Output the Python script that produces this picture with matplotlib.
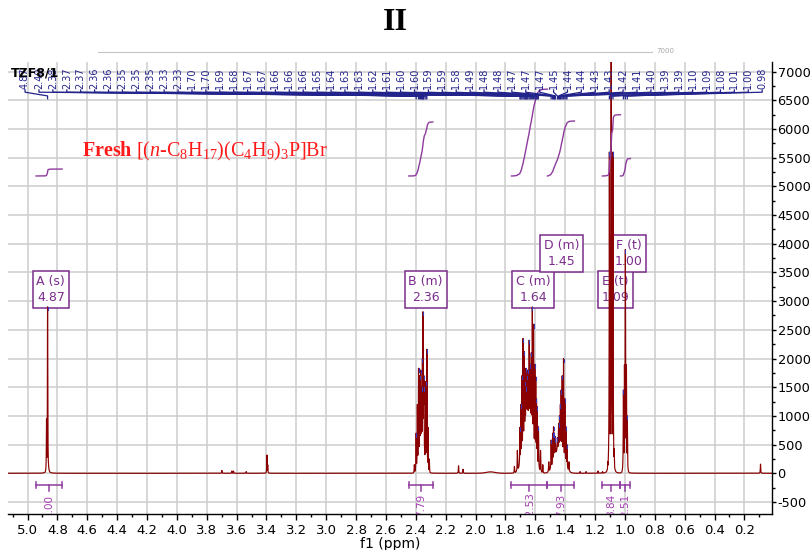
import numpy as np
import matplotlib
matplotlib.use("Agg")
import matplotlib.pyplot as plt
from matplotlib.lines import Line2D
from matplotlib.ticker import MultipleLocator, FuncFormatter

plt.rcParams["axes.unicode_minus"] = False
plt.rcParams["font.family"] = ["DejaVu Sans"]
plt.rcParams["mathtext.fontset"] = "custom"
plt.rcParams["mathtext.rm"] = "Liberation Serif"
plt.rcParams["mathtext.it"] = "Liberation Serif:italic"
plt.rcParams["mathtext.bf"] = "Liberation Serif:bold"

# ---------------- data ----------------
# picked peaks (ppm) and apparent heights
peak_ppm = [4.866,
            2.398, 2.382, 2.374, 2.368, 2.362, 2.356, 2.352, 2.348, 2.346, 2.333, 2.326,
            1.703, 1.697, 1.690, 1.682, 1.674, 1.668, 1.663, 1.659, 1.656, 1.650,
            1.641, 1.634, 1.627, 1.620, 1.612, 1.603, 1.597, 1.592, 1.587, 1.579,
            1.494, 1.484, 1.478, 1.473, 1.468, 1.466, 1.452, 1.444, 1.438, 1.432,
            1.427, 1.420, 1.411, 1.402, 1.394, 1.388,
            1.104, 1.092, 1.080,
            1.010, 0.997, 0.984]
peak_height = [2900,
               700, 1830, 1700, 1800, 1500, 2000, 2815, 1500, 1700, 1600, 2160,
               800, 1200, 1700, 2350, 2120, 1600, 1830, 1500, 1700, 1800,
               2320, 1900, 2100, 2900, 2600, 1900, 1680, 1300, 1160, 810,
               580, 700, 810, 700, 600, 640, 620, 870, 1000, 1200,
               1450, 1700, 2000, 1300, 810, 500,
               5600, 9500, 5600,
               1450, 3900, 1000]

# other (unpicked) lines
extra_ppm = [4.873, 3.699, 3.632, 3.621, 3.536, 3.397, 3.392,
             2.410, 2.390, 2.318, 2.310, 2.114, 2.084,
             1.740, 1.720, 1.565, 1.550, 1.510, 1.375,
             1.300, 1.260, 1.180, 1.150, 1.115, 1.072,
             1.003, 0.990, 0.092]
extra_height = [950, 50, 40, 40, 30, 318, 150,
                150, 1200, 800, 250, 130, 70,
                120, 400, 400, 150, 200, 200,
                30, 30, 40, 30, 200, 430,
                1890, 1890, 160]

# broad multiplet envelopes (centre, height, sigma in ppm)
env_center = [4.867, 2.360, 1.645, 1.440, 1.092, 0.997, 1.900]
env_height = [40, 500, 1000, 450, 400, 300, 25]
env_sigma = [0.006, 0.018, 0.030, 0.030, 0.010, 0.008, 0.030]

# multiplet annotations
mult_names = ["A (s)", "B (m)", "C (m)", "D (m)", "E (t)", "F (t)"]
mult_shift = [4.87, 2.36, 1.64, 1.45, 1.09, 1.00]
mult_row = [0, 0, 0, 1, 0, 1]

# integrals
integral_values = [1.00, 7.79, 12.53, 7.93, 8.84, 2.51]
integral_from = [4.943, 2.447, 1.760, 1.519, 1.151, 1.030]
integral_to = [4.769, 2.286, 1.519, 1.338, 1.030, 0.963]

# ---------------- build spectrum ----------------
ppm = np.linspace(5.131, 0.015, 60001)
env = np.zeros_like(ppm)
for c, h, s in zip(env_center, env_height, env_sigma):
    env += h * np.exp(-0.5 * ((ppm - c) / s) ** 2)

lines_p = np.array(peak_ppm + extra_ppm)
lines_h = np.array(peak_height + extra_height, dtype=float)
env_at = np.interp(lines_p, ppm[::-1], env[::-1])
amp = np.clip(lines_h - env_at, 0, None)
hw = 0.0014
spikes = np.zeros_like(ppm)
for p, a in zip(lines_p, amp):
    np.maximum(spikes, a / (1 + ((ppm - p) / hw) ** 2), out=spikes)
spec = env + spikes

# ---------------- figure ----------------
W, H = 812, 550
fig = plt.figure(figsize=(W / 100, H / 100), dpi=100)
ax = fig.add_axes([8 / W, 1 - 514 / H, (772 - 8) / W, (514 - 62) / H])
ax.set_xlim(5.131, 0.015)
ax.set_ylim(-709, 7166)

ax.grid(True, which="major", color="#CDCDCD", lw=1.1)
ax.set_axisbelow(True)
for s in ["left", "top"]:
    ax.spines[s].set_visible(False)
for s in ["bottom", "right"]:
    ax.spines[s].set_color("black")
    ax.spines[s].set_linewidth(1.0)

ax.xaxis.set_major_locator(MultipleLocator(0.2))
ax.xaxis.set_minor_locator(MultipleLocator(0.1))
ax.xaxis.set_major_formatter(FuncFormatter(lambda v, p: f"{v:.1f}"))
ax.yaxis.set_major_locator(MultipleLocator(500))
ax.yaxis.set_minor_locator(MultipleLocator(250))
ax.yaxis.set_major_formatter(FuncFormatter(lambda v, p: f"{int(round(v))}"))
ax.yaxis.tick_right()
ax.tick_params(axis="x", which="major", length=4, width=1, labelsize=9.5, pad=3)
ax.tick_params(axis="x", which="minor", length=2, width=1)
ax.tick_params(axis="y", which="major", length=3, width=1, labelsize=9.3, pad=1,
               left=False, right=True)
ax.tick_params(axis="y", which="minor", length=2, width=1, left=False, right=True)
ax.set_xlabel("f1 (ppm)", fontsize=10, labelpad=0)

# spectrum
ax.plot(ppm, spec, color="#8B0000", lw=0.85, zorder=4)

# peak-pick markers on spectrum
navy = "#23238C"
for p in peak_ppm:
    yt = np.interp(p, ppm[::-1], spec[::-1])
    ax.plot([p, p], [yt - 60, yt], color="#3A3AB8", lw=0.8, zorder=5)

# peak labels at the top
n = len(peak_ppm)
label_x = np.linspace(5.0168, 0.0807, n)
for lx, p in zip(label_x, peak_ppm):
    ax.text(lx, 6690, f"{p:.2f}", rotation=90, ha="center", va="bottom",
            fontsize=7, color=navy, zorder=6)
    ax.plot([lx, lx, p, p], [6680, 6640, 6575, 6525], color=navy, lw=0.9, zorder=5)

# multiplet label boxes
purple = "#7B2C8C"
row_y = [3200, 3830]
for name, sh, r in zip(mult_names, mult_shift, mult_row):
    ax.text(sh - 0.026, row_y[r], f"{name}\n{sh:.2f}", ha="center", va="center",
            fontsize=9, color=purple, linespacing=1.3, zorder=3,
            bbox=dict(boxstyle="square,pad=0.3", fc="white", ec=purple, lw=1.1))

# integral curves and bars
icol = "#8E3A9E"
lcol = "#A23BB0"
integral_base = 5180
integral_scale = 120.7
for v, a, b in zip(integral_values, integral_from, integral_to):
    m = (ppm <= a) & (ppm >= b)
    cum = np.cumsum(spec[m])
    cum = cum / cum[-1] * v * integral_scale + integral_base
    ax.plot(ppm[m], cum, color=icol, lw=1.0, zorder=4)
    mid = (a + b) / 2
    ax.plot([a, b], [-205, -205], color=icol, lw=1.1, zorder=4)
    ax.plot([a, a], [-250, -160], color=icol, lw=1.1, zorder=4)
    ax.plot([b, b], [-250, -160], color=icol, lw=1.1, zorder=4)
    ax.plot([mid, mid], [-205, -300], color=icol, lw=1.1, zorder=4)
    ax.text(mid, -564, f"{v:.2f}", rotation=90, ha="center", va="center",
            fontsize=7.5, color=lcol, clip_on=True, zorder=4)

# annotations outside data
fig.text(395 / W, 1 - 23 / H, "II", fontsize=23, fontweight="bold",
         family="Liberation Serif", ha="center", va="center")
fig.text(82 / W, 1 - 151 / H,
         r"$\mathbf{Fresh}$ [($\mathit{n}$-C$_8$H$_{17}$)(C$_4$H$_9$)$_3$P]Br",
         fontsize=14.5, color="#FF1A1A", family="Liberation Serif", va="center")
fig.text(11 / W, 1 - 73 / H, "TZF8/1", fontsize=9, fontweight="bold",
         color="black", va="center", zorder=10)
fig.add_artist(Line2D([98 / W, 652 / W], [1 - 52 / H, 1 - 52 / H],
                      color="#C4C4C4", lw=0.8))
fig.text(656 / W, 1 - 51 / H, "7000", fontsize=5, color="#A8A8A8", va="center")

fig.savefig("out.png", dpi=100)
